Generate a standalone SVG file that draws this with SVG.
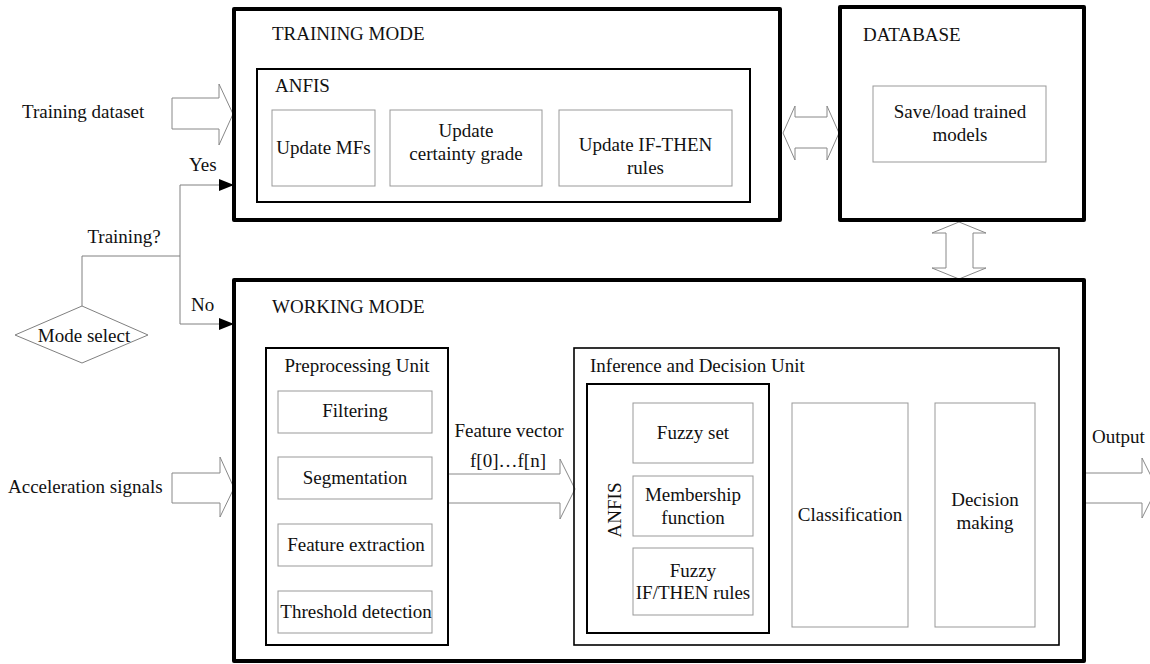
<svg xmlns="http://www.w3.org/2000/svg" width="1150" height="664" viewBox="0 0 1150 664">
<style>
text{font-family:"Liberation Serif","Times New Roman",serif;font-size:19px;fill:#111}
.m{text-anchor:middle}
.thick{fill:none;stroke:#000;stroke-width:4;stroke-linejoin:round}
.mid{fill:none;stroke:#000;stroke-width:2}
.sub{fill:#fff;stroke:#999;stroke-width:1}
.blk{fill:#fff;stroke:#888;stroke-width:1}
.ln{fill:none;stroke:#808080;stroke-width:1}
</style>
<defs>
<marker id="ah" markerUnits="userSpaceOnUse" markerWidth="15" markerHeight="12" refX="15" refY="6" orient="auto">
<path d="M0,0 L15,6 L0,12 z" fill="#000"/>
</marker>
</defs>
<rect width="1150" height="664" fill="#fff"/>

<g id="connectors">
<polygon class="blk" points="172,98 219,98 219,84 233,114 219,145 219,129 172,129"/>
<polygon class="blk" points="172,473 220,473 220,457 234,488 220,517 220,503 172,503"/>
<polygon class="blk" points="448,474 560,474 560,459 575,489 560,519 560,503 448,503"/>
<polygon class="blk" points="1084,473 1142,473 1142,458 1157,488 1142,518 1142,503 1084,503"/>
<polygon class="blk" points="783,133 795,106 795,117 827,117 827,106 839,133 827,160 827,148 795,148 795,160"/>
<polygon class="blk" points="959,222 986,233 973,233 973,268 986,268 959,279 932,268 946,268 946,233 932,233"/>
<polyline class="ln" points="82,306 82,256 180,256"/>
<line class="ln" x1="180" y1="185" x2="180" y2="324"/>
<path class="ln" d="M180,185 H234" marker-end="url(#ah)"/>
<path class="ln" d="M180,324 H234" marker-end="url(#ah)"/>
<text x="22" y="118">Training dataset</text>
<text x="189" y="171">Yes</text>
<text x="124" y="243" class="m">Training?</text>
<text x="191" y="311">No</text>
<text x="8" y="493">Acceleration signals</text>
<text x="509" y="437" class="m">Feature vector</text>
<text x="508" y="467" class="m">f[0]…f[n]</text>
<text x="1092" y="443">Output</text>
</g>

<g id="mode-select">
<polygon class="ln" points="15,335 82,306 148,335 82,363"/>
<text x="84" y="342" class="m">Mode select</text>
</g>

<g id="training-mode">
<rect class="thick" x="234" y="9" width="546" height="211"/>
<text x="272" y="40">TRAINING MODE</text>
<rect class="mid" x="257" y="69" width="493" height="133"/>
<text x="275" y="92">ANFIS</text>
<rect class="sub" x="272" y="110" width="103" height="76"/>
<text x="323.5" y="154" class="m">Update MFs</text>
<rect class="sub" x="390" y="110" width="152" height="76"/>
<text x="466" y="137" class="m">Update</text>
<text x="466" y="160" class="m">certainty grade</text>
<rect class="sub" x="559" y="110" width="173" height="76"/>
<text x="645.5" y="151" class="m">Update IF-THEN</text>
<text x="645.5" y="174" class="m">rules</text>
</g>

<g id="database">
<rect class="thick" x="840" y="7" width="244" height="213"/>
<text x="863" y="41">DATABASE</text>
<rect class="sub" x="873" y="86" width="173" height="76"/>
<text x="960" y="118" class="m">Save/load trained</text>
<text x="960" y="141" class="m">models</text>
</g>

<g id="working-mode">
<rect class="thick" x="234" y="280" width="850" height="381"/>
<text x="272" y="313">WORKING MODE</text>
</g>

<g id="preprocessing">
<rect class="mid" x="266" y="348" width="182" height="297"/>
<text x="357" y="372" class="m">Preprocessing Unit</text>
<rect class="sub" x="278" y="391" width="154" height="42"/>
<text x="355" y="417" class="m">Filtering</text>
<rect class="sub" x="278" y="457" width="154" height="42"/>
<text x="355" y="484" class="m">Segmentation</text>
<rect class="sub" x="278" y="524" width="154" height="42"/>
<text x="356" y="551" class="m">Feature extraction</text>
<rect class="sub" x="278" y="591" width="154" height="42"/>
<text x="356" y="618" class="m">Threshold detection</text>
</g>

<g id="inference">
<rect class="mid" x="574" y="348" width="485" height="297" style="stroke-width:1.6"/>
<text x="590" y="372">Inference and Decision Unit</text>
<rect class="mid" x="587" y="384" width="182" height="249"/>
<text transform="translate(621,510) rotate(-90)" class="m">ANFIS</text>
<rect class="sub" x="633" y="403" width="120" height="60"/>
<text x="693" y="439" class="m">Fuzzy set</text>
<rect class="sub" x="633" y="476" width="120" height="60"/>
<text x="693" y="501" class="m">Membership</text>
<text x="693" y="524" class="m">function</text>
<rect class="sub" x="633" y="548" width="120" height="67"/>
<text x="693" y="577" class="m">Fuzzy</text>
<text x="693" y="599" class="m">IF/THEN rules</text>
<rect class="sub" x="792" y="403" width="116" height="224"/>
<text x="850" y="521" class="m">Classification</text>
<rect class="sub" x="935" y="403" width="100" height="224"/>
<text x="985" y="506" class="m">Decision</text>
<text x="985" y="529" class="m">making</text>
</g>
</svg>
